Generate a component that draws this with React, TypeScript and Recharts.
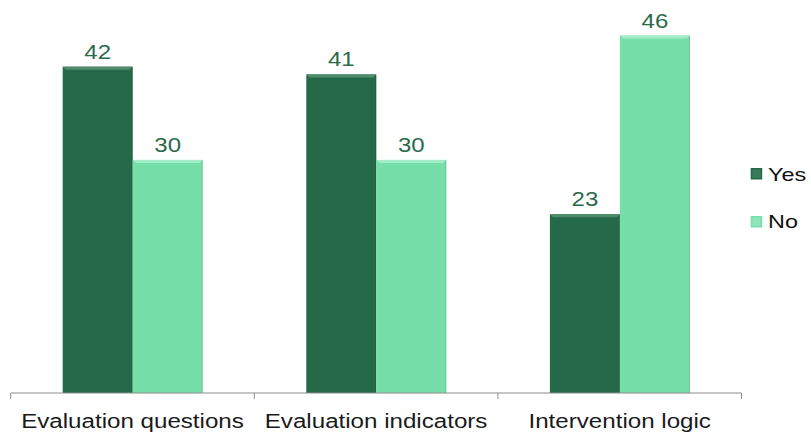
import React from "react";
import { BarChart, Bar, XAxis, YAxis, Legend, LabelList } from "recharts";

const categories = ["Evaluation questions", "Evaluation indicators", "Intervention logic"];
const yesValues = [42, 41, 23];
const noValues = [30, 30, 46];
const seriesNames = ["Yes", "No"];

const data = categories.map((name, i) => ({
  name,
  Yes: yesValues[i],
  No: noValues[i],
}));

const YES = "#256a48";
const NO = "#76dea9";
const YES_LIGHT = "#4f8c6c";
const NO_LIGHT = "#a3ecc8";
const FONT = "'Liberation Sans', Arial, sans-serif";

const bevelBar = (fill: string, light: string) => (props: any) => {
  const { x, y, width, height } = props;
  if (!height || height <= 0) return <g />;
  const b = 3;
  return (
    <g>
      <rect x={x} y={y} width={width} height={height} fill={fill} />
      <polygon
        points={`${x},${y} ${x + width},${y} ${x + width - b},${y + b} ${x + b},${y + b}`}
        fill={light}
      />
      <rect x={x + width - 1} y={y} width={1} height={height} fill="#000" opacity={0.12} />
    </g>
  );
};

const CategoryTick = (props: any) => {
  const { x, y, payload, index } = props;
  const half = payload && payload.offset ? payload.offset : 122;
  const last = index === categories.length - 1;
  return (
    <g>
      <line x1={x - half} y1={y} x2={x - half} y2={y + 6} stroke="#8c8c8c" />
      {last && <line x1={x + half} y1={y} x2={x + half} y2={y + 6} stroke="#8c8c8c" />}
      <text
        transform={`translate(${x},${y + 35}) scale(1.15,1)`}
        textAnchor="middle"
        fontFamily={FONT}
        fontSize={21}
        fill="#1a1a1a"
      >
        {payload.value}
      </text>
    </g>
  );
};

const valueLabel = (props: any) => {
  const { x, y, width, value } = props;
  return (
    <text
      transform={`translate(${x + width / 2},${y - 8}) scale(1.2,1)`}
      textAnchor="middle"
      fontFamily={FONT}
      fontSize={20}
      fill="#2a6a4a"
    >
      {value}
    </text>
  );
};

const LegendContent = () => {
  const colors = [YES, NO];
  const lights = [YES_LIGHT, NO_LIGHT];
  return (
    <svg width={71} height={80}>
      {seriesNames.map((n, i) => (
        <g key={n}>
          <rect x={10.7} y={8 + i * 48} width={11.5} height={11.5} fill={colors[i]} />
          <rect x={12.2} y={9.5 + i * 48} width={8.5} height={8.5} fill={lights[i]} opacity={0.5} />
          <text
            transform={`translate(28,${20.7 + i * 47}) scale(1.3,1)`}
            fontFamily={FONT}
            fontSize={18}
            fill="#111"
          >
            {n}
          </text>
        </g>
      ))}
    </svg>
  );
};

export default function App() {
  return (
    <div style={{ position: "absolute", left: 0, top: 0 }}>
      <BarChart
        width={811}
        height={434}
        data={data}
        margin={{ top: 4.5, right: 69.5, left: 10.7, bottom: 0 }}
        barCategoryGap={52}
        barGap={0}
      >
        <XAxis
          dataKey="name"
          height={41}
          tickSize={0}
          tickMargin={0}
          tickLine={false}
          axisLine={{ stroke: "#8c8c8c" }}
          tick={<CategoryTick />}
          interval={0}
        />
        <YAxis hide domain={[0, 50]} />
        <Legend
          layout="vertical"
          align="center"
          verticalAlign="middle"
          content={<LegendContent />}
          wrapperStyle={{ left: 740, top: 160, width: 71, height: 80 }}
        />
        <Bar dataKey="Yes" fill={YES} shape={bevelBar(YES, YES_LIGHT)} isAnimationActive={false}>
          <LabelList dataKey="Yes" content={valueLabel} />
        </Bar>
        <Bar dataKey="No" fill={NO} shape={bevelBar(NO, NO_LIGHT)} isAnimationActive={false}>
          <LabelList dataKey="No" content={valueLabel} />
        </Bar>
      </BarChart>
    </div>
  );
}
